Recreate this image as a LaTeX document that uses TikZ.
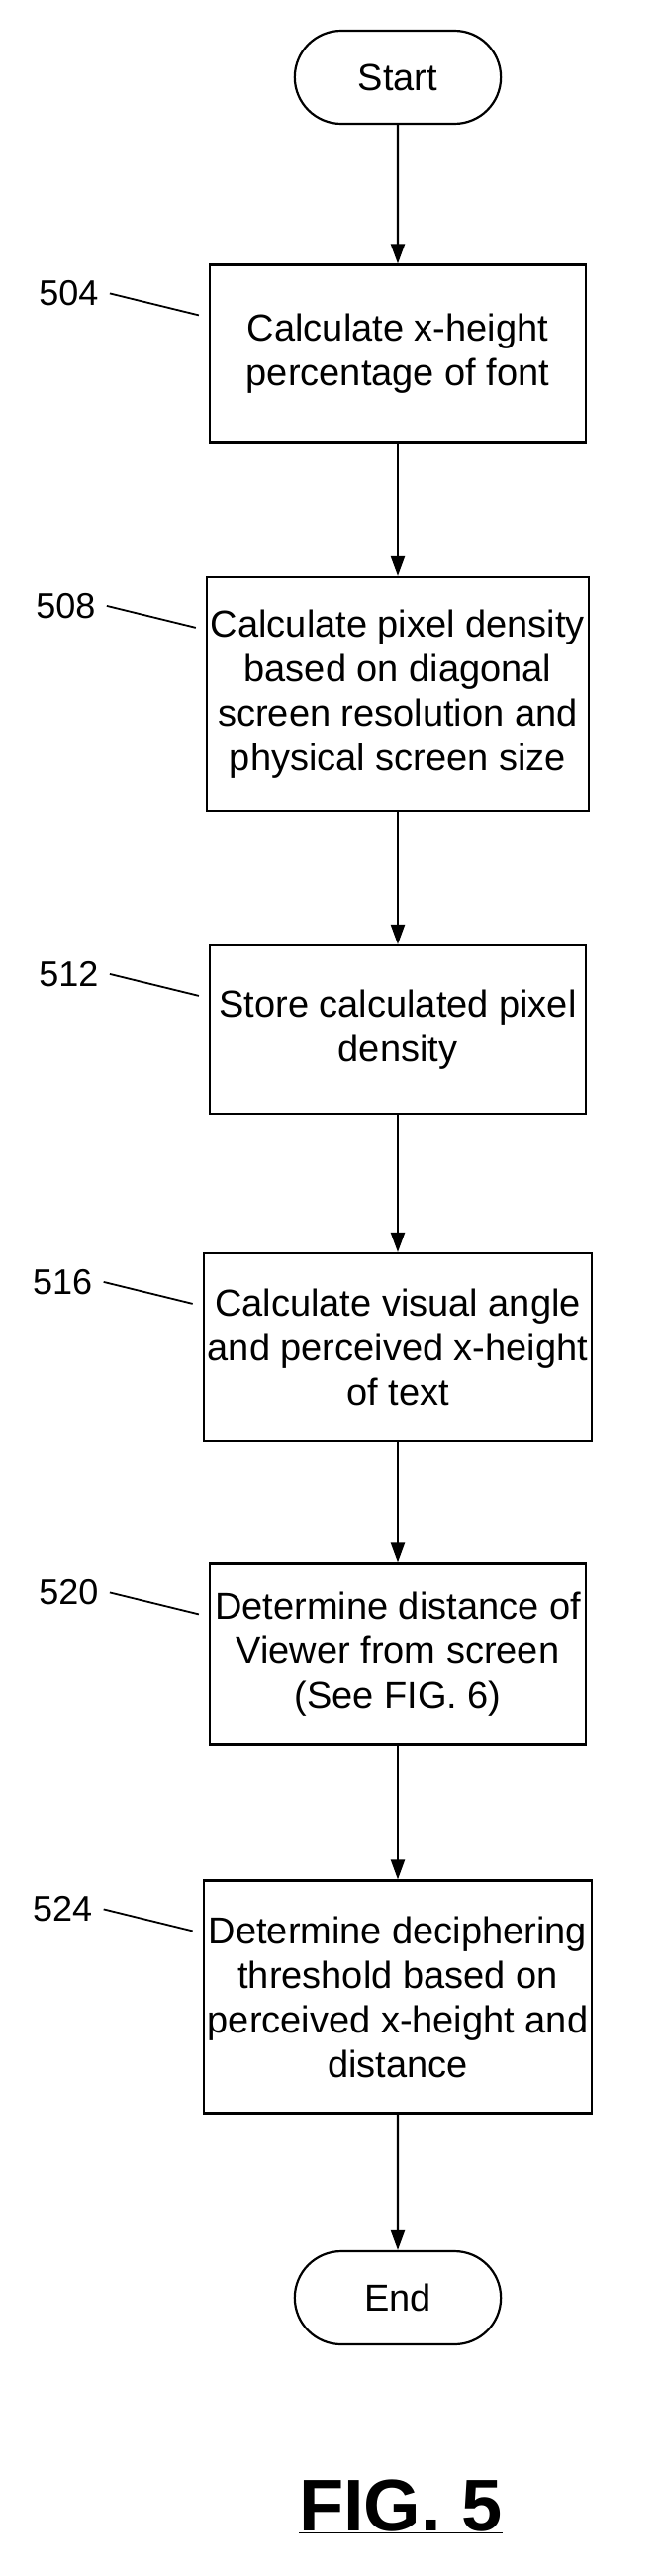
\documentclass[tikz,border=0pt]{standalone}
\usepackage{fontspec}
\setmainfont{Liberation Sans}
\usetikzlibrary{arrows.meta,shapes.misc}
\tikzset{
  procbox/.style={draw,line width=2.2pt,minimum width=380pt,align=center,
    font=\fontsize{38}{45}\selectfont,inner sep=4pt},
  term/.style={draw,line width=2.2pt,rounded rectangle,minimum width=215pt,
    minimum height=94pt,font=\fontsize{38}{45}\selectfont},
  flow/.style={line width=2.2pt,-{Triangle[length=20pt,width=14pt]}},
  ref/.style={font=\fontsize{36}{40}\selectfont,anchor=east}
}
\begin{document}
\begin{tikzpicture}[x=1pt,y=-1pt]
\useasboundingbox (0,0) rectangle (670,2602);

% terminals
\node[term] (start) at (402,78) {Start};
\node[term] (end) at (402,2321) {End};

% steps
\node[procbox,minimum height=179pt] (s504) at (402,357) {Calculate x-height\\percentage of font};
\node[procbox,minimum height=236pt] (s508) at (402,701) {Calculate pixel density\\based on diagonal\\screen resolution and\\physical screen size};
\node[procbox,minimum height=170pt] (s512) at (402,1040) {Store calculated pixel\\density};
\node[procbox,minimum height=190pt] (s516) at (402,1361) {Calculate visual angle\\and perceived x-height\\of text};
\node[procbox,minimum height=183pt] (s520) at (402,1671) {Determine distance of\\Viewer from screen\\(See FIG. 6)};
\node[procbox,minimum height=235pt] (s524) at (402,2017) {Determine deciphering\\threshold based on\\perceived x-height and\\distance};

% connectors
\draw[flow] (start) -- (s504);
\draw[flow] (s504) -- (s508);
\draw[flow] (s508) -- (s512);
\draw[flow] (s512) -- (s516);
\draw[flow] (s516) -- (s520);
\draw[flow] (s520) -- (s524);
\draw[flow] (s524) -- (end);

% reference numerals
\foreach \n in {504,508,512,516,520,524}{
  \node[ref] (r\n) at ([xshift=-108pt,yshift=-30pt]s\n.north west) {\n};
  \coordinate (c\n) at ([yshift=-52pt]s\n.north west);
  \draw[line width=1.8pt] ([xshift=8pt]r\n.east) -- ([xshift=-10pt]c\n);
}

% figure label
\node[font=\fontsize{74}{78}\selectfont\bfseries] (fig) at (405,2532) {\underline{FIG. 5}};
\end{tikzpicture}
\end{document}
